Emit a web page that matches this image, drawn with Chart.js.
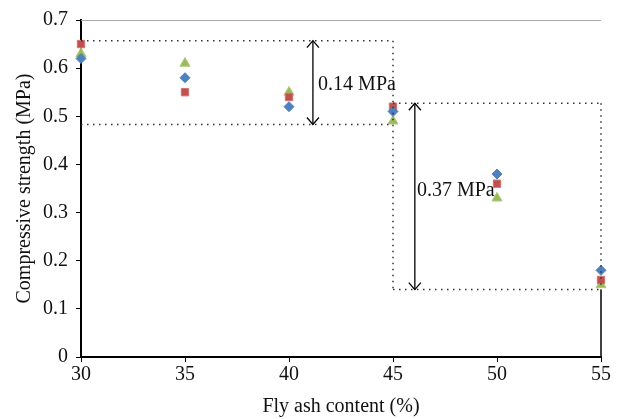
<!DOCTYPE html>
<html><head><meta charset="utf-8">
<script src="https://cdn.jsdelivr.net/npm/chart.js@4"></script>
<style>html,body{margin:0;padding:0;background:#fff}#w{width:623px;height:419px}</style>
</head><body><div id="w"><canvas id="c"></canvas></div>
<script>
const flyAsh = [30, 35, 40, 45, 50, 55];
const seriesBlue = [0.62, 0.58, 0.52, 0.51, 0.38, 0.18];
const seriesRed = [0.65, 0.55, 0.54, 0.52, 0.36, 0.16];
const seriesGreen = [0.63, 0.61, 0.55, 0.49, 0.33, 0.15];
const yTicks = [0, 0.1, 0.2, 0.3, 0.4, 0.5, 0.6, 0.7];
// reference (dotted) lines in data space: [x1, y1, x2, y2]
const dottedLines = [
  [30, 0.657, 45, 0.657],
  [30, 0.483, 45, 0.483],
  [45, 0.657, 45, 0.14],
  [45, 0.527, 55, 0.527],
  [45, 0.14, 55, 0.14],
  [55, 0.527, 55, 0.14]
];
// double arrows: [x, yTop, yBottom]
const arrows = [[41.15, 0.657, 0.483], [46.05, 0.527, 0.14]];
// labels: [text, x, y]
const labels = [["0.14 MPa", 41.4, 0.565], ["0.37 MPa", 46.15, 0.345]];

const pts = arr => flyAsh.map((x, i) => ({x, y: arr[i]}));
const FONT = "'Liberation Serif', 'DejaVu Serif', serif";

const overlay = {
  id: 'overlay',
  afterDatasetsDraw(chart) {
    const {ctx, scales: {x, y}} = chart;
    ctx.save();
    ctx.strokeStyle = '#aaa'; ctx.lineWidth = 1;
    ctx.beginPath();
    ctx.moveTo(x.getPixelForValue(30), Math.round(y.getPixelForValue(0.7)) + 0.5);
    ctx.lineTo(x.getPixelForValue(55), Math.round(y.getPixelForValue(0.7)) + 0.5);
    ctx.stroke();
    ctx.strokeStyle = '#000'; ctx.lineWidth = 1.5;
    ctx.beginPath();
    ctx.moveTo(x.getPixelForValue(55), y.getPixelForValue(0.14));
    ctx.lineTo(x.getPixelForValue(55), y.getPixelForValue(0));
    ctx.stroke();
    ctx.strokeStyle = '#333'; ctx.lineWidth = 1.5;
    ctx.setLineDash([1.5, 4.5]);
    dottedLines.forEach(([x1, y1, x2, y2]) => {
      ctx.beginPath();
      ctx.moveTo(x.getPixelForValue(x1), y.getPixelForValue(y1));
      ctx.lineTo(x.getPixelForValue(x2), y.getPixelForValue(y2));
      ctx.stroke();
    });
    ctx.setLineDash([]);
    ctx.strokeStyle = '#000'; ctx.lineWidth = 1.3;
    arrows.forEach(([ax, y1, y2]) => {
      const px = x.getPixelForValue(ax), p1 = y.getPixelForValue(y1), p2 = y.getPixelForValue(y2);
      ctx.beginPath(); ctx.moveTo(px, p1); ctx.lineTo(px, p2); ctx.stroke();
      ctx.beginPath();
      ctx.moveTo(px - 6, p1 + 7); ctx.lineTo(px, p1); ctx.lineTo(px + 6, p1 + 7);
      ctx.moveTo(px - 6, p2 - 7); ctx.lineTo(px, p2); ctx.lineTo(px + 6, p2 - 7);
      ctx.stroke();
    });
    ctx.fillStyle = '#111'; ctx.font = "20px " + FONT;
    ctx.textAlign = 'left'; ctx.textBaseline = 'middle';
    labels.forEach(([t, lx, ly]) => ctx.fillText(t, x.getPixelForValue(lx), y.getPixelForValue(ly)));
    ctx.restore();
  }
};

new Chart(document.getElementById('c'), {
  type: 'scatter',
  data: {
    datasets: [
      {label: 'A', data: pts(seriesBlue), pointStyle: 'rectRot', pointRadius: 5, backgroundColor: '#4F81BD', borderColor: '#4F81BD', borderWidth: 1, clip: false},
      {label: 'B', data: pts(seriesRed), pointStyle: 'rect', pointRadius: 5.2, backgroundColor: '#C0504D', borderColor: '#D07572', borderWidth: 1, clip: false},
      {label: 'C', data: pts(seriesGreen), pointStyle: 'triangle', pointRadius: 5.8, backgroundColor: '#9BBB59', borderColor: '#B0C97E', borderWidth: 1, clip: false}
    ]
  },
  options: {
    responsive: true, maintainAspectRatio: false, animation: false,
    layout: {padding: {top: 19, right: 22, left: 13, bottom: 0}},
    plugins: {legend: {display: false}, tooltip: {enabled: false}},
    scales: {
      x: {
        type: 'linear', min: 30, max: 55,
        afterFit: s => { s.height = 62; },
        ticks: {stepSize: 5, color: '#111', font: {family: FONT, size: 20}, padding: 1},
        grid: {drawOnChartArea: false, drawTicks: true, tickLength: 5, color: '#000', lineWidth: 1},
        border: {color: '#000', width: 2},
        title: {display: true, text: 'Fly ash content (%)', color: '#111', font: {family: FONT, size: 20}, padding: {top: 0, bottom: 0}}
      },
      y: {
        type: 'linear', min: 0, max: 0.7,
        afterFit: s => { s.width = 68; },
        afterBuildTicks: s => { s.ticks = yTicks.map(v => ({value: v})); },
        ticks: {color: '#111', font: {family: FONT, size: 20}, padding: 8,
          callback: v => v === 0 ? '0' : v.toFixed(1)},
        grid: {drawOnChartArea: false, drawTicks: true, tickLength: 5, color: '#000', lineWidth: 1},
        border: {color: '#000', width: 2},
        title: {display: true, text: 'Compressive strength (MPa)', color: '#111', font: {family: FONT, size: 20}, padding: {top: 0, bottom: 0}}
      }
    }
  },
  plugins: [overlay]
});
</script></body></html>
